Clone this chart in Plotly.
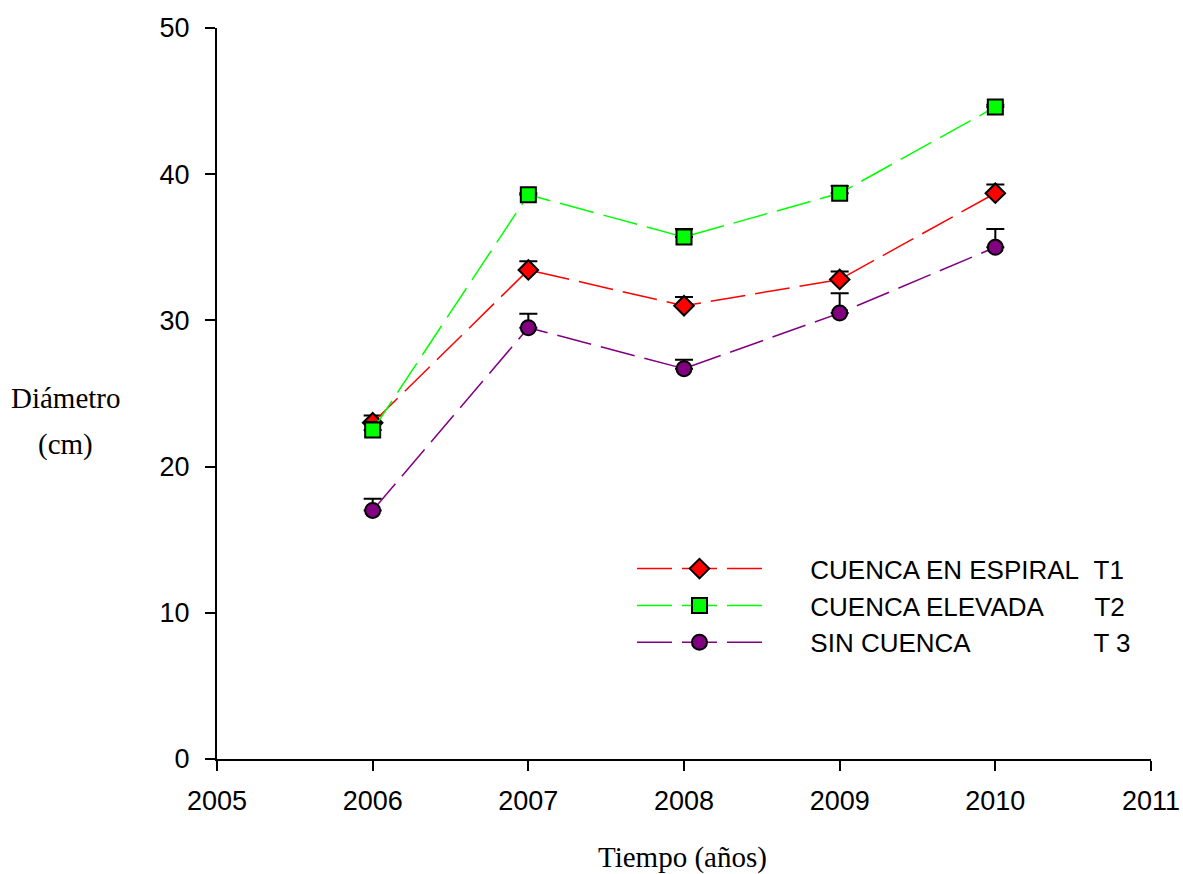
import plotly.graph_objects as go

years = [2006, 2007, 2008, 2009, 2010]

t1_vals = [23.0, 33.45, 31.0, 32.8, 38.7]
t1_err = [0.5, 0.6, 0.6, 0.55, 0.6]

t2_vals = [22.5, 38.6, 35.7, 38.7, 44.6]
t2_err = [0.55, 0.1, 0.55, 0.5, 0.15]

t3_vals = [17.0, 29.5, 26.7, 30.5, 35.0]
t3_err = [0.8, 0.95, 0.6, 1.35, 1.25]

NB = "\u00a0"
lead = NB * 6
names = [
    lead + "CUENCA EN ESPIRAL" + NB * 2 + "T1",
    lead + "CUENCA ELEVADA" + NB * 7 + "T2",
    lead + "SIN CUENCA" + NB * 17 + "T 3",
]

x_ticks = [2005, 2006, 2007, 2008, 2009, 2010, 2011]
y_ticks = [0, 10, 20, 30, 40, 50]

series = [
    (t1_vals, t1_err, names[0], "#FF0000", "diamond", 15),
    (t2_vals, t2_err, names[1], "#00FF00", "square", 15),
    (t3_vals, t3_err, names[2], "#800080", "circle", 15),
]

fig = go.Figure()
for vals, errs, name, color, sym, size in series:
    fig.add_trace(go.Scatter(
        x=years, y=vals, name=name, mode="lines+markers",
        line=dict(color=color, width=1.5, dash="35px,10px"),
        marker=dict(symbol=sym, size=size, color=color,
                    line=dict(color="black", width=2)),
        error_y=dict(type="data", symmetric=False, array=errs,
                     arrayminus=[0] * len(errs), color="black",
                     thickness=2, width=9),
    ))

serif = "Liberation Serif, Times New Roman"
fig.update_layout(
    width=1183, height=874,
    margin=dict(l=217, r=32, t=28, b=115, autoexpand=False),
    paper_bgcolor="white", plot_bgcolor="white",
    font=dict(family="Liberation Sans, Arial", size=27, color="black"),
    showlegend=True,
    legend=dict(x=0.4443, y=0.2925, xanchor="left", yanchor="top",
                bgcolor="rgba(0,0,0,0)", itemwidth=125, borderwidth=0,
                font=dict(size=26), tracegroupgap=0),
    xaxis=dict(range=[2005, 2011], tickvals=x_ticks, automargin=False,
               showgrid=False, zeroline=False, showline=True,
               linecolor="black", linewidth=2, ticks="outside",
               ticklen=10, tickwidth=2, tickcolor="black",
               ticklabelstandoff=7, ticklabeloverflow="allow"),
    yaxis=dict(range=[0, 50], tickvals=y_ticks, automargin=False,
               showgrid=False, zeroline=False, showline=True,
               linecolor="black", linewidth=2, ticks="outside",
               ticklen=10, tickwidth=2, tickcolor="black",
               ticklabelstandoff=10, ticklabeloverflow="allow"),
    annotations=[
        dict(text="Diámetro", x=-0.1617, y=0.4938, xref="paper", yref="paper",
             xanchor="center", yanchor="middle",
             showarrow=False, font=dict(family=serif, size=29)),
        dict(text="(cm)", x=-0.1617, y=0.4309, xref="paper", yref="paper",
             xanchor="center", yanchor="middle",
             showarrow=False, font=dict(family=serif, size=29)),
        dict(text="Tiempo (años)", x=0.4989, y=-0.1354, xref="paper", yref="paper",
             xanchor="center", yanchor="middle",
             showarrow=False, font=dict(family=serif, size=29)),
    ],
)

fig.write_html("out.html")
